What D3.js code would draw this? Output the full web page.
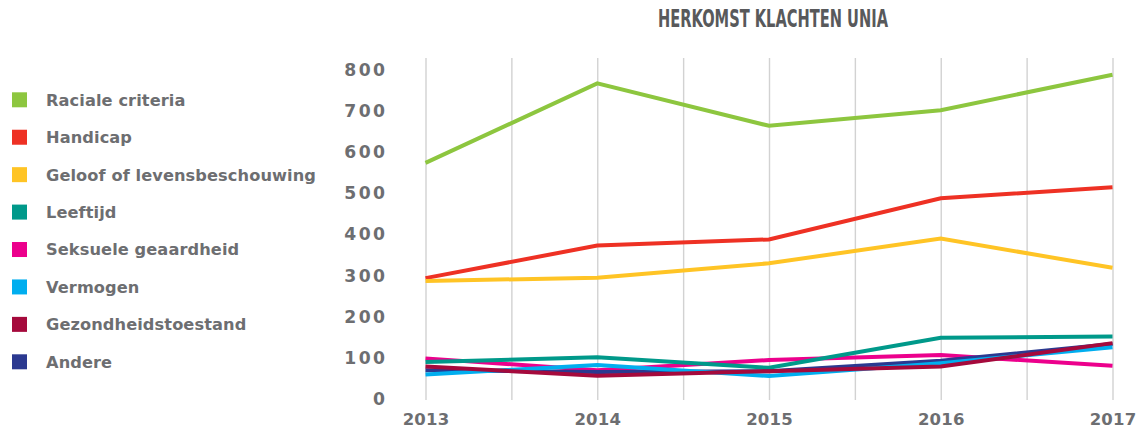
<!DOCTYPE html>
<html>
<head>
<meta charset="utf-8">
<script src="https://cdn.jsdelivr.net/npm/d3@7"></script>
<style>
  html, body { margin: 0; padding: 0; background: #ffffff; }
  svg { display: block; }
</style>
</head>
<body>
<svg id="chart" width="1136" height="429"></svg>
<script>
// ---- data ----
const years = [2013, 2014, 2015, 2016, 2017];
const seriesNames = ["Raciale criteria", "Handicap", "Geloof of levensbeschouwing", "Leeftijd",
                     "Seksuele geaardheid", "Vermogen", "Gezondheidstoestand", "Andere"];
const raciale    = [572, 765, 662, 700, 786];
const handicap   = [292, 371, 386, 486, 513];
const geloof     = [285, 293, 328, 388, 317];
const leeftijd   = [88, 100, 74, 147, 150];
const seksuele   = [97, 68, 93, 105, 79];
const vermogen   = [58, 81, 54, 85, 124];
const gezondheid = [77, 55, 66, 77, 134];
const andere     = [68, 64, 66, 91, 132];
const yTicks = [0, 100, 200, 300, 400, 500, 600, 700, 800];
const gridYears = [2013, 2013.5, 2014, 2014.5, 2015, 2015.5, 2016, 2016.5, 2017];
const title = "HERKOMST KLACHTEN UNIA";

const colors = ["#8dc63f", "#ee3124", "#ffc425", "#00998a", "#ec008c", "#00aeef", "#a50a3c", "#2b3990"];
const values = [raciale, handicap, geloof, leeftijd, seksuele, vermogen, gezondheid, andere];
const drawOrder = [0, 1, 2, 4, 3, 7, 5, 6];

const gray = "#6d6e71";
const font = "'DejaVu Sans', sans-serif";

const svg = d3.select("#chart");

const x = d3.scaleLinear().domain([2013, 2017]).range([425.5, 1112.5]);
const y = d3.scaleLinear().domain([0, 800]).range([398.3, 69]);

// vertical grid via axis
const gx = svg.append("g").attr("transform", "translate(0,400)")
  .call(d3.axisBottom(x).tickValues(gridYears).tickSize(-342)
        .tickFormat(d => Number.isInteger(d) ? String(d) : ""));
gx.select(".domain").remove();
gx.selectAll(".tick line").attr("stroke", "#d2d2d2").attr("stroke-width", 1.4);
gx.selectAll(".tick text")
  .attr("y", 19.3).attr("dy", "0.36em")
  .attr("fill", gray).attr("font-family", font).attr("font-weight", "bold")
  .attr("font-size", 16.5).attr("letter-spacing", 0.2);

// y axis labels
const gy = svg.append("g").attr("transform", "translate(385,0)")
  .call(d3.axisLeft(y).tickValues(yTicks).tickSize(0).tickPadding(0));
gy.select(".domain").remove();
gy.selectAll(".tick text")
  .attr("fill", gray).attr("font-family", font).attr("font-weight", "bold")
  .attr("font-size", 17.2).attr("letter-spacing", 2.4).attr("dy", "0.36em")
  .attr("dx", 2.4);

// lines
const line = d3.line().x((d, i) => x(years[i])).y(d => y(d));
svg.append("g").selectAll("path").data(drawOrder).join("path")
  .attr("d", k => line(values[k]))
  .attr("fill", "none")
  .attr("stroke", k => colors[k])
  .attr("stroke-width", 4)
  .attr("stroke-linejoin", "miter");

// legend
const leg = svg.append("g");
const rowY = d3.scaleLinear().domain([0, 7]).range([99.8, 361.8]);
const items = leg.selectAll("g").data(seriesNames).join("g")
  .attr("transform", (d, i) => `translate(0,${rowY(i)})`);
items.append("rect").attr("x", 12).attr("y", -7.5).attr("width", 15).attr("height", 15)
  .attr("fill", (d, i) => colors[i]);
items.append("text").attr("x", 46).attr("dy", "0.36em").text(d => d)
  .attr("fill", gray).attr("font-family", font).attr("font-weight", "bold")
  .attr("font-size", 16.2).attr("letter-spacing", 0.1);

// title
svg.append("text").attr("x", 658).attr("y", 26.8).text(title)
  .attr("fill", "#58595b")
  .attr("font-family", "'Liberation Sans Narrow', 'DejaVu Sans Condensed', sans-serif")
  .attr("font-weight", "bold").attr("font-size", 25.5)
  .attr("textLength", 230).attr("lengthAdjust", "spacingAndGlyphs");
</script>
</body>
</html>
